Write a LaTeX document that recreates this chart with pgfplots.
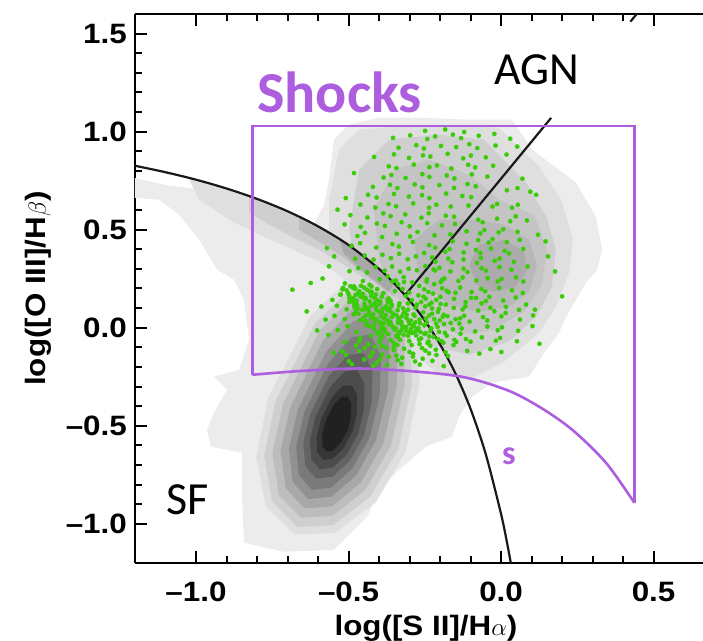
\documentclass[border=0pt]{standalone}
\usepackage{fontspec}
\setmainfont{Liberation Sans}
\newfontfamily\tickfont{Liberation Sans}[FakeStretch=1.12]
\newfontfamily\calibri{Carlito}
\usepackage{pgfplots}
\pgfplotsset{compat=1.18}
\definecolor{shockpurple}{RGB}{172,94,222}
\definecolor{ptgreen}{RGB}{58,204,8}
\definecolor{curvecol}{RGB}{25,25,25}
\definecolor{gA}{gray}{0.925}
\definecolor{gB}{gray}{0.875}
\definecolor{gC}{gray}{0.81}
\definecolor{gD}{gray}{0.74}
\definecolor{gDa}{gray}{0.77}
\definecolor{gEa}{gray}{0.72}
\definecolor{gE}{gray}{0.66}
\definecolor{gFa}{gray}{0.67}
\definecolor{gF}{gray}{0.57}
\definecolor{gG}{gray}{0.48}
\definecolor{gH}{gray}{0.39}
\definecolor{gI}{gray}{0.30}
\definecolor{gJ}{gray}{0.21}
\definecolor{gK}{gray}{0.13}
\begin{document}
\begin{tikzpicture}
\begin{axis}[
  scale only axis, width=568pt, height=549pt,
  xmin=-1.2, xmax=0.662, ymin=-1.2, ymax=1.6,
  axis x line*=box, axis y line*=left,
  axis line style={line width=2pt, black},
  xtick={-1,-0.5,0,0.5}, xticklabels={–1.0,–0.5,0.0,0.5},
  ytick={-1,-0.5,0,0.5,1,1.5}, yticklabels={–1.0,–0.5,0.0,0.5,1.0,1.5},
  minor x tick num=4, minor y tick num=4,
  tick align=inside,
  major tick length=12pt, minor tick length=7pt,
  every tick/.style={black, line width=2pt},
  ticklabel style={font=\fontsize{28}{32}\selectfont\tickfont\bfseries, inner sep=0pt},
  xticklabel style={anchor=base, yshift=-39pt},
  yticklabel style={anchor=east, xshift=-8pt},
  xlabel={log([S II]/H$\alpha$)}, ylabel={log([O III]/H$\beta$)},
  label style={font=\fontsize{28}{32}\selectfont\tickfont\bfseries, inner sep=0pt},
  xlabel style={at={(axis description cs:0.5123,-0.13297)}, anchor=base},
  ylabel style={at={(axis description cs:-0.1461,0.5)}, anchor=south},
]
% ---- density: outer envelope
\addplot[fill=gA, draw=none] coordinates {(-1.25,0.781) (-1.089,0.724) (-0.875,0.689) (-0.695,0.587) (-0.613,0.531) (-0.580,0.628) (-0.564,0.755) (-0.548,0.959) (-0.498,1.036) (-0.400,1.071) (-0.269,1.071) (-0.105,1.061) (0.036,1.061) (0.102,0.908) (0.190,0.806) (0.246,0.740) (0.311,0.566) (0.331,0.398) (0.315,0.296) (0.279,0.230) (0.213,0.056) (0.190,-0.026) (0.148,-0.112) (0.092,-0.250) (-0.030,-0.281) (-0.095,-0.352) (-0.138,-0.454) (-0.161,-0.556) (-0.246,-0.607) (-0.334,-0.724) (-0.400,-0.827) (-0.439,-0.964) (-0.525,-1.097) (-0.548,-1.133) (-0.711,-1.143) (-0.843,-1.097) (-0.849,-0.862) (-0.849,-0.638) (-0.951,-0.607) (-0.964,-0.520) (-0.941,-0.434) (-0.898,-0.316) (-0.941,-0.250) (-0.859,-0.214) (-0.826,-0.061) (-0.843,0.143) (-0.875,0.245) (-0.931,0.296) (-0.990,0.449) (-1.056,0.577) (-1.121,0.653) (-1.25,0.668)} --cycle;
% ---- level B
\addplot[fill=gB, draw=none] coordinates {(-0.3541,0.2724) (-0.2757,0.0694) (-0.2672,-0.2847) (-0.3121,-0.6306) (-0.4121,-0.8929) (-0.5456,-1.0474) (-0.6770,-1.0546) (-0.7711,-0.9117) (-0.8026,-0.6571) (-0.7633,-0.3592) (-0.6246,0.0622) (-0.4820,0.2699)} --cycle;
\addplot[fill=gB, draw=none] coordinates {(-1.023,0.760) (-0.9246,0.7245) (-0.8262,0.6735) (-0.7279,0.6122) (-0.6623,0.5663) (-0.5967,0.5153) (-0.5311,0.4541) (-0.4656,0.3827) (-0.4000,0.3010) (-0.3344,0.1990) (-0.2689,0.0765) (-0.3016,-0.0102) (-0.3836,0.0918) (-0.4820,0.2194) (-0.5967,0.3367) (-0.6951,0.4082) (-0.7934,0.4745) (-0.8918,0.5510) (-0.9902,0.6531)} --cycle;
\addplot[fill=gB, draw=none] coordinates {(-0.564,0.653) (-0.531,0.908) (-0.466,1.010) (-0.269,1.036) (-0.007,1.020) (0.125,0.821) (0.197,0.653) (0.236,0.449) (0.223,0.281) (0.180,0.107) (0.125,-0.026) (0.010,-0.173) (-0.105,-0.265) (-0.203,-0.240) (-0.302,-0.112) (-0.400,0.041) (-0.498,0.194) (-0.564,0.398)} --cycle;
% ---- level C
\addplot[fill=gC, draw=none] coordinates {(-0.3656,0.2245) (-0.2967,0.0388) (-0.2925,-0.2898) (-0.3364,-0.6163) (-0.4285,-0.8607) (-0.5495,-1.0071) (-0.6675,-1.0168) (-0.7508,-0.8862) (-0.7767,-0.6510) (-0.7390,-0.3735) (-0.6108,0.0194) (-0.4807,0.2173)} --cycle;
\addplot[fill=gC, draw=none] coordinates {(-0.8262,0.6735) (-0.7279,0.6122) (-0.6623,0.5663) (-0.5967,0.5153) (-0.5311,0.4541) (-0.4656,0.3827) (-0.4000,0.3010) (-0.3344,0.1990) (-0.3508,0.1429) (-0.4328,0.2347) (-0.5148,0.3214) (-0.5967,0.3980) (-0.6787,0.4592) (-0.7607,0.5255) (-0.8262,0.5867)} --cycle;
\addplot[fill=gC, draw=none] coordinates {(-0.498,0.500) (-0.466,0.806) (-0.367,0.959) (-0.203,0.985) (-0.056,0.959) (0.082,0.740) (0.148,0.566) (0.180,0.398) (0.167,0.209) (0.115,0.056) (0.026,-0.071) (-0.105,-0.138) (-0.236,-0.087) (-0.334,0.041) (-0.433,0.194) (-0.482,0.347)} --cycle;
% ---- level D
\addplot[fill=gDa, draw=none] coordinates {(-0.400,0.347) (-0.416,0.602) (-0.351,0.806) (-0.236,0.857) (-0.105,0.781) (-0.007,0.653) (0.108,0.577) (0.151,0.398) (0.134,0.219) (0.075,0.082) (-0.023,-0.010) (-0.138,-0.036) (-0.252,0.041) (-0.334,0.143)} --cycle;
\addplot[fill=gD, draw=none] coordinates {(-0.3748,0.1862) (-0.3157,0.0163) (-0.3164,-0.2903) (-0.3610,-0.6015) (-0.4436,-0.8245) (-0.5515,-0.9587) (-0.6557,-0.9694) (-0.7285,-0.8526) (-0.7498,-0.6398) (-0.7144,-0.3883) (-0.5961,-0.0184) (-0.4774,0.1735)} --cycle;
\addplot[fill=gD, draw=none] coordinates {(-0.6623,0.5663) (-0.5967,0.5153) (-0.5311,0.4541) (-0.4656,0.3827) (-0.4000,0.3010) (-0.3344,0.1990) (-0.3508,0.1582) (-0.4328,0.2551) (-0.5148,0.3571) (-0.5967,0.4388) (-0.6623,0.5000)} --cycle;
% ---- level E
\addplot[fill=gEa, draw=none] coordinates {(-0.269,0.245) (-0.285,0.449) (-0.203,0.551) (-0.089,0.551) (0.010,0.526) (0.092,0.449) (0.118,0.321) (0.092,0.184) (0.026,0.107) (-0.072,0.082) (-0.170,0.117)} --cycle;
\addplot[fill=gFa, draw=none] coordinates {(-0.105,0.321) (-0.072,0.423) (0.010,0.449) (0.075,0.388) (0.085,0.286) (0.043,0.204) (-0.023,0.184) (-0.079,0.219)} --cycle;
\addplot[fill=gE, draw=none] coordinates {(-0.3885,0.1286) (-0.3390,-0.0224) (-0.3423,-0.3000) (-0.3852,-0.5867) (-0.4587,-0.7883) (-0.5534,-0.9107) (-0.6439,-0.9219) (-0.7059,-0.8189) (-0.7230,-0.6291) (-0.6902,-0.4031) (-0.5839,-0.0658) (-0.4784,0.1128)} --cycle;
\addplot[fill=gE, draw=none] coordinates {(-0.5311,0.4541) (-0.4656,0.3827) (-0.4000,0.3010) (-0.3508,0.2245) (-0.3672,0.1837) (-0.4492,0.2857) (-0.5148,0.3776)} --cycle;
% ---- SF core levels F..K
\addplot[fill=gF, draw=none] coordinates {(-0.4069,0.0520) (-0.3659,-0.0781) (-0.3708,-0.3199) (-0.4095,-0.5719) (-0.4741,-0.7515) (-0.5554,-0.8622) (-0.6321,-0.8745) (-0.6836,-0.7847) (-0.6957,-0.6179) (-0.6659,-0.4179) (-0.5738,-0.1230) (-0.4830,0.0352)} --cycle;
\addplot[fill=gG, draw=none] coordinates {(-0.4275,-0.0347) (-0.3934,-0.1434) (-0.3980,-0.3464) (-0.4308,-0.5592) (-0.4866,-0.7168) (-0.5561,-0.8148) (-0.6203,-0.8270) (-0.6626,-0.7505) (-0.6715,-0.6051) (-0.6446,-0.4306) (-0.5672,-0.1827) (-0.4911,-0.0490)} --cycle;
\addplot[fill=gH, draw=none] coordinates {(-0.4505,-0.1306) (-0.4216,-0.2184) (-0.4243,-0.3806) (-0.4492,-0.5480) (-0.4954,-0.6786) (-0.5528,-0.7597) (-0.6062,-0.7699) (-0.6413,-0.7066) (-0.6485,-0.5862) (-0.6262,-0.4418) (-0.5639,-0.2449) (-0.5026,-0.1398)} --cycle;
\addplot[fill=gI, draw=none] coordinates {(-0.4711,-0.2168) (-0.4479,-0.2852) (-0.4489,-0.4097) (-0.4675,-0.5372) (-0.5052,-0.6454) (-0.5518,-0.7133) (-0.5944,-0.7224) (-0.6220,-0.6709) (-0.6269,-0.5719) (-0.6079,-0.4526) (-0.5600,-0.3020) (-0.5121,-0.2230)} --cycle;
\addplot[fill=gJ, draw=none] coordinates {(-0.4895,-0.2934) (-0.4721,-0.3434) (-0.4725,-0.4342) (-0.4859,-0.5260) (-0.5154,-0.6122) (-0.5508,-0.6668) (-0.5826,-0.6750) (-0.6026,-0.6352) (-0.6049,-0.5582) (-0.5895,-0.4638) (-0.5548,-0.3546) (-0.5197,-0.2974)} --cycle;
\addplot[fill=gK, draw=none] coordinates {(-0.5033,-0.3510) (-0.4911,-0.3867) (-0.4915,-0.4510) (-0.5010,-0.5168) (-0.5233,-0.5827) (-0.5492,-0.6250) (-0.5718,-0.6327) (-0.5856,-0.6031) (-0.5866,-0.5449) (-0.5744,-0.4730) (-0.5495,-0.3949) (-0.5246,-0.3541)} --cycle;
% ---- green points
\addplot[ptgreen, only marks, mark=*, mark size=2.1pt] coordinates {
(-0.405,-0.029) (-0.392,-0.039) (-0.370,-0.033) (-0.343,-0.042) (-0.334,-0.030) (-0.319,-0.036) (-0.291,-0.027) (-0.278,-0.040) (-0.251,-0.032)
(-0.406,-0.025) (-0.393,-0.013) (-0.380,-0.019) (-0.349,-0.010) (-0.335,-0.023) (-0.311,-0.015) (-0.301,-0.024) (-0.274,-0.012) (-0.264,-0.022)
(-0.430,0.008) (-0.416,-0.005) (-0.391,0.003) (-0.382,-0.006) (-0.355,0.006) (-0.344,-0.004) (-0.322,0.002) (-0.296,-0.007) (-0.285,0.005) (-0.271,-0.001)
(-0.441,0.013) (-0.415,0.019) (-0.392,0.010) (-0.384,0.022) (-0.367,0.016) (-0.338,0.025) (-0.325,0.012) (-0.300,0.020) (-0.289,0.011) (-0.265,0.023)
(-0.454,0.039) (-0.440,0.033) (-0.408,0.042) (-0.396,0.029) (-0.372,0.037) (-0.362,0.028) (-0.336,0.040) (-0.327,0.030) (-0.304,0.036) (-0.281,0.027)
(-0.452,0.047) (-0.427,0.055) (-0.418,0.046) (-0.394,0.058) (-0.383,0.048) (-0.358,0.054) (-0.336,0.045) (-0.326,0.057) (-0.311,0.051) (-0.283,0.060)
(-0.468,0.071) (-0.444,0.062) (-0.433,0.074) (-0.419,0.068) (-0.391,0.077) (-0.378,0.064) (-0.354,0.072) (-0.343,0.063) (-0.319,0.075) (-0.309,0.065)
(-0.475,0.086) (-0.446,0.095) (-0.433,0.082) (-0.408,0.090) (-0.398,0.081) (-0.374,0.093) (-0.363,0.083) (-0.339,0.089) (-0.315,0.080) (-0.305,0.092)
(-0.481,0.107) (-0.470,0.098) (-0.446,0.110) (-0.435,0.100) (-0.411,0.106) (-0.388,0.097) (-0.377,0.109) (-0.363,0.103) (-0.335,0.112) (-0.321,0.099)
(-0.483,0.127) (-0.472,0.117) (-0.448,0.123) (-0.425,0.114) (-0.414,0.126) (-0.400,0.120) (-0.371,0.129) (-0.358,0.116) (-0.333,0.124)
(-0.497,0.132) (-0.487,0.144) (-0.473,0.138) (-0.444,0.147) (-0.431,0.134) (-0.407,0.142) (-0.396,0.133) (-0.372,0.145) (-0.362,0.135)
(-0.498,0.164) (-0.485,0.151) (-0.461,0.159) (-0.450,0.150) (-0.426,0.162) (-0.415,0.152) (-0.391,0.158) (-0.368,0.149)
(-0.525,0.170) (-0.501,0.176) (-0.477,0.167) (-0.467,0.179) (-0.453,0.173) (-0.424,0.182) (-0.411,0.169) (-0.386,0.177)
(-0.520,0.196) (-0.506,0.190) (-0.478,0.199) (-0.465,0.186) (-0.440,0.194) (-0.430,0.185) (-0.406,0.197)
(-0.518,0.203) (-0.494,0.211) (-0.484,0.202) (-0.459,0.214) (-0.449,0.204) (-0.425,0.210)
(-0.352,-0.101) (-0.331,-0.062) (-0.318,-0.107) (-0.305,-0.041) (-0.293,-0.088) (-0.281,-0.019) (-0.269,-0.061) (-0.259,-0.104) (-0.247,-0.028) (-0.241,-0.079) (-0.229,-0.003) (-0.221,-0.047) (-0.214,-0.112) (-0.203,-0.021) (-0.196,-0.068) (-0.187,0.019)
(-0.268,0.041) (-0.255,0.079) (-0.243,0.026) (-0.236,0.062) (-0.226,0.098) (-0.219,0.044) (-0.207,0.081) (-0.198,0.121) (-0.191,0.057) (-0.262,0.131) (-0.254,0.158) (-0.281,0.102) (-0.292,0.141) (-0.301,0.179) (-0.312,0.162) (-0.323,0.198) (-0.337,0.221) (-0.348,0.187) (-0.356,0.236) (-0.318,0.233) (-0.305,0.124) (-0.287,0.068) (-0.276,0.118) (-0.296,0.036) (-0.311,0.004) (-0.327,-0.013)
(-0.362,-0.063) (-0.377,-0.102) (-0.391,-0.046) (-0.413,-0.098) (-0.426,-0.041) (-0.447,-0.103) (-0.368,-0.148) (-0.396,-0.161) (-0.324,-0.153) (-0.289,-0.147) (-0.257,-0.158) (-0.236,-0.131)
(-0.499,-0.171) (-0.489,-0.186) (-0.449,-0.162) (-0.419,-0.195) (-0.408,-0.178) (-0.373,-0.190) (-0.339,-0.165) (-0.327,-0.184) (-0.282,-0.172) (-0.266,-0.188) (-0.225,-0.169) (-0.188,-0.196)
(-0.520,-0.121) (-0.508,-0.139) (-0.465,-0.118) (-0.429,-0.146) (-0.421,-0.127) (-0.390,-0.137) (-0.352,-0.114) (-0.343,-0.142) (-0.300,-0.124) (-0.288,-0.133) (-0.248,-0.117) (-0.212,-0.139) (-0.182,-0.125) (-0.174,-0.144)
(-0.512,-0.072) (-0.475,-0.091) (-0.465,-0.069) (-0.435,-0.085) (-0.398,-0.074) (-0.390,-0.094) (-0.352,-0.078) (-0.340,-0.088) (-0.301,-0.068) (-0.267,-0.083) (-0.238,-0.071) (-0.232,-0.092) (-0.189,-0.077) (-0.156,-0.089) (-0.147,-0.073)
(-0.462,-0.052) (-0.395,-0.057) (-0.338,-0.049) (-0.262,-0.055) (-0.235,-0.044) (-0.207,-0.058)
(-0.535,-0.012) (-0.503,0.008) (-0.474,-0.021) (-0.251,0.012) (-0.232,-0.017) (-0.208,0.004) (-0.184,-0.026) (-0.158,-0.008) (-0.133,-0.031)
(-0.546,0.061) (-0.512,0.044) (-0.483,0.068) (-0.462,0.039) (-0.247,0.047) (-0.226,0.071) (-0.201,0.038) (-0.176,0.059) (-0.149,0.043)
(-0.538,0.112) (-0.506,0.094) (-0.478,0.121) (-0.455,0.091) (-0.249,0.108) (-0.228,0.127) (-0.204,0.096) (-0.181,0.118) (-0.155,0.101)
(-0.527,0.168) (-0.497,0.149) (-0.468,0.176) (-0.445,0.153) (-0.271,0.165) (-0.247,0.148) (-0.223,0.174) (-0.199,0.157) (-0.172,0.181)
(-0.512,0.226) (-0.482,0.211) (-0.453,0.238) (-0.431,0.219) (-0.291,0.231) (-0.268,0.213) (-0.244,0.236) (-0.219,0.222) (-0.193,0.244)
(-0.398,0.247) (-0.372,0.262) (-0.345,0.241) (-0.319,0.258)
(-0.497,0.288) (-0.468,0.304) (-0.439,0.282) (-0.411,0.309) (-0.382,0.291) (-0.357,0.312) (-0.331,0.286) (-0.303,0.301) (-0.276,0.293) (-0.248,0.314) (-0.221,0.297)
(-0.478,0.352) (-0.447,0.368) (-0.418,0.347) (-0.389,0.372) (-0.361,0.355) (-0.334,0.377) (-0.306,0.349) (-0.279,0.364) (-0.252,0.381) (-0.226,0.358)
(-0.490,0.418) (-0.462,0.431) (-0.409,0.409) (-0.356,0.426) (-0.335,0.414) (-0.289,0.437) (-0.236,0.421) (-0.216,0.408)
(-0.471,0.468) (-0.446,0.484) (-0.390,0.462) (-0.342,0.479) (-0.298,0.465) (-0.274,0.488) (-0.218,0.471) (-0.166,0.476)
(-0.513,0.527) (-0.460,0.514) (-0.407,0.531) (-0.381,0.519) (-0.326,0.538) (-0.300,0.517) (-0.242,0.533) (-0.194,0.522) (-0.151,0.529)
(-0.494,0.574) (-0.438,0.562) (-0.386,0.583) (-0.362,0.569) (-0.314,0.578) (-0.261,0.561) (-0.237,0.584) (-0.181,0.571) (-0.154,0.566)
(-0.461,0.628) (-0.412,0.613) (-0.369,0.631) (-0.344,0.619) (-0.288,0.634) (-0.236,0.612) (-0.212,0.627) (-0.165,0.618) (-0.107,0.623)
(-0.436,0.678) (-0.408,0.664) (-0.351,0.682) (-0.302,0.669) (-0.259,0.676) (-0.235,0.661) (-0.180,0.684) (-0.127,0.672) (-0.098,0.666)
(-0.420,0.718) (-0.364,0.729) (-0.340,0.712) (-0.283,0.731) (-0.258,0.716) (-0.202,0.727) (-0.154,0.713) (-0.110,0.733) (-0.083,0.721)
(-0.385,0.766) (-0.360,0.779) (-0.313,0.764) (-0.258,0.783) (-0.235,0.769) (-0.178,0.776) (-0.153,0.761) (-0.096,0.782) (-0.045,0.771)
(-0.368,0.823) (-0.343,0.814) (-0.286,0.832) (-0.235,0.819) (-0.210,0.828) (-0.163,0.812) (-0.108,0.831) (-0.085,0.818) (-0.026,0.826)
(-0.416,0.871) (-0.351,0.884) (-0.302,0.866) (-0.256,0.879) (-0.232,0.873) (-0.175,0.887) (-0.124,0.864) (-0.099,0.878) (-0.050,0.869) (0.018,0.883)
(-0.336,0.918) (-0.278,0.931) (-0.253,0.914) (-0.197,0.927) (-0.147,0.921) (-0.104,0.936) (-0.078,0.916) (-0.018,0.929) (0.053,0.924)
(-0.354,0.968) (-0.298,0.981) (-0.242,0.962) (-0.216,0.976) (-0.158,0.985) (-0.131,0.967) (-0.073,0.979) (-0.022,0.988) (0.030,0.964)
(-0.249,1.004) (-0.183,1.011) (-0.121,0.998)
(-0.684,0.194) (-0.624,0.228) (-0.637,0.083) (-0.571,0.406) (-0.575,0.041) (-0.536,0.602) (-0.509,0.661) (-0.482,0.789) (-0.547,0.364) (-0.564,0.313) (-0.585,0.251) (-0.553,0.142) (-0.589,0.108) (-0.566,-0.037) (-0.548,-0.128) (-0.603,-0.014)
(-0.111,-0.118) (-0.071,-0.132) (-0.035,-0.109) (0.001,-0.124) (0.126,-0.082)
(-0.115,-0.058) (-0.100,-0.071) (-0.063,-0.049) (-0.017,-0.066) (-0.003,-0.052) (0.052,-0.069)
(-0.129,-0.004) (-0.085,-0.019) (-0.045,0.006) (-0.011,-0.013) (0.003,0.002) (0.056,-0.016) (0.103,0.008)
(-0.134,0.048) (-0.103,0.031) (-0.059,0.054) (-0.045,0.037) (0.001,0.058) (0.015,0.075) (0.062,0.042) (0.105,0.063)
(-0.126,0.093) (-0.117,0.109) (-0.075,0.087) (-0.035,0.102) (-0.022,0.084) (0.016,0.106) (0.059,0.091) (0.111,0.092) (0.082,0.118)
(-0.154,0.147) (-0.116,0.131) (-0.082,0.152) (-0.050,0.136) (-0.039,0.158) (0.007,0.139) (0.048,0.154) (0.071,0.177) (0.200,0.160)
(-0.252,0.196) (-0.238,0.183) (-0.193,0.201) (-0.178,0.188) (-0.134,0.205) (-0.097,0.182) (-0.065,0.198) (-0.052,0.186) (-0.006,0.203) (0.036,0.191) (0.073,0.236)
(-0.243,0.247) (-0.198,0.233) (-0.186,0.251) (-0.140,0.238) (-0.126,0.256) (-0.081,0.241) (-0.044,0.252) (-0.011,0.236) (0.002,0.249) (0.049,0.257)
(-0.216,0.292) (-0.202,0.306) (-0.166,0.287) (-0.123,0.301) (-0.110,0.284) (-0.064,0.303) (-0.049,0.291) (-0.005,0.309) (0.034,0.296) (0.177,0.287) (0.087,0.312)
(-0.215,0.337) (-0.173,0.352) (-0.160,0.334) (-0.123,0.348) (-0.079,0.331) (-0.066,0.356) (-0.021,0.341) (-0.005,0.353) (0.042,0.336) (0.154,0.364)
(-0.183,0.388) (-0.169,0.401) (-0.123,0.384) (-0.082,0.397) (-0.068,0.381) (-0.033,0.404) (0.012,0.392) (0.026,0.379) (0.073,0.402)
(-0.159,0.441) (-0.113,0.428) (-0.075,0.447) (-0.041,0.434) (-0.028,0.452) (0.019,0.437) (0.061,0.448) (0.146,0.440)
(-0.113,0.492) (-0.068,0.481) (-0.055,0.498) (-0.008,0.486) (0.007,0.502) (0.054,0.489) (0.121,0.474)
(-0.075,0.551) (-0.060,0.538) (-0.013,0.556) (0.030,0.543) (0.048,0.568) (0.085,0.547)
(-0.028,0.618) (-0.013,0.631) (0.036,0.612) (0.055,0.627) (0.115,0.678)
(0.019,0.701) (0.054,0.712) (0.070,0.760) (0.096,0.694)
(-0.236,0.118) (-0.212,0.142) (-0.188,0.066) (-0.165,0.024) (-0.149,0.178) (-0.121,0.061) (-0.098,0.152) (-0.064,0.124) (-0.213,0.021) (-0.178,-0.041) (-0.153,-0.062) (-0.137,0.021)
};
% ---- Kewley curve
\addplot[curvecol, line width=2.2pt, smooth] coordinates {(-1.25,0.843) (-1.2,0.826) (-1.1,0.793) (-1.0,0.755) (-0.9,0.710) (-0.8,0.657) (-0.7,0.594) (-0.6,0.517) (-0.5,0.422) (-0.4,0.300) (-0.35,0.225) (-0.3,0.139) (-0.25,0.037) (-0.2,-0.085) (-0.15,-0.232) (-0.1,-0.414) (-0.05,-0.646) (0.0,-0.950) (0.02,-1.100) (0.032,-1.200) (0.04,-1.27)};
% ---- AGN / LINER line
\addplot[curvecol, line width=2.2pt] coordinates {(-0.315,0.165) (0.164,1.070)};
\addplot[curvecol, line width=2.2pt] coordinates {(0.424,1.561) (0.450,1.610)};
% ---- shocks region
\addplot[shockpurple, line width=2.6pt, line join=miter] coordinates {(-0.815,-0.240) (-0.815,1.028) (0.437,1.028) (0.437,-0.893)};
\addplot[shockpurple, line width=2.6pt, smooth] coordinates {(-0.815,-0.240) (-0.639,-0.219) (-0.433,-0.209) (-0.148,-0.245) (0.016,-0.316) (0.125,-0.403) (0.233,-0.520) (0.344,-0.689) (0.437,-0.893)};
% ---- labels
\node[anchor=base west, inner sep=0pt, text=shockpurple, font=\fontsize{58}{60}\selectfont\calibri\bfseries] at (axis cs:-0.800,1.096) {Shocks};
\node[anchor=base west, inner sep=0pt, font=\fontsize{46}{48}\selectfont\calibri] at (axis cs:-0.023,1.240) {AGN};
\node[anchor=base west, inner sep=0pt, font=\fontsize{46}{48}\selectfont\calibri] at (axis cs:-1.098,-0.954) {SF};
\node[anchor=base west, inner sep=0pt, text=shockpurple, font=\fontsize{34}{36}\selectfont\calibri\bfseries] at (axis cs:0.003,-0.699) {s};
\end{axis}
\pgfresetboundingbox
\path[use as bounding box] ([shift={(-135pt,-78pt)}]current axis.south west) rectangle ([shift={(0pt,14pt)}]current axis.north east);
\end{tikzpicture}
\end{document}
